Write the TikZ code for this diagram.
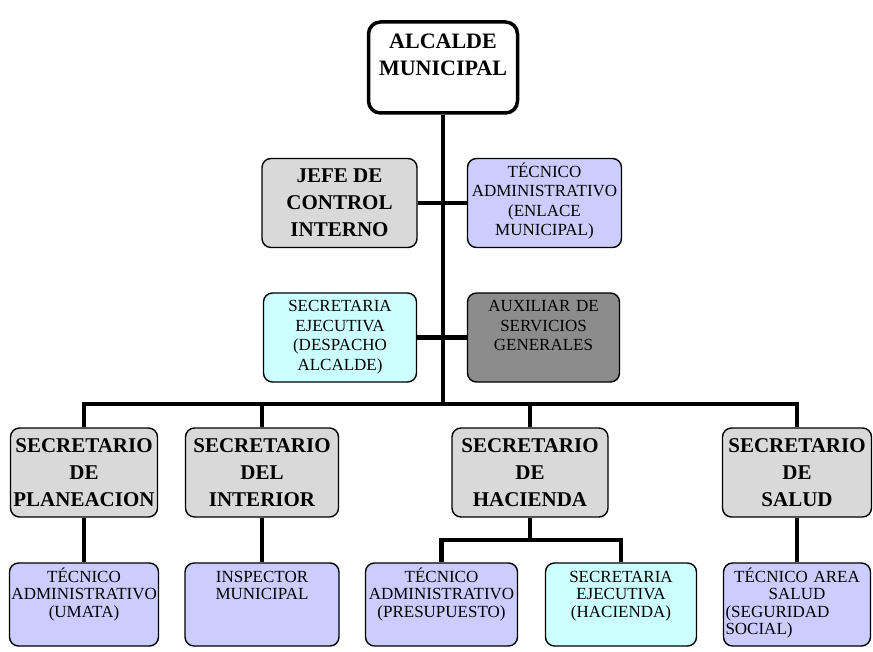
\documentclass[tikz,border=0pt]{standalone}
\usepackage{fontspec}
\setmainfont{Liberation Serif}

\begin{document}
\begin{tikzpicture}[x=1pt,y=-1pt,
  box/.style={draw=black,line width=1.4pt,rounded corners=9pt,inner sep=2pt},
  head/.style={box,fill=chead,font=\bfseries\fontsize{21}{27}\selectfont,align=center,minimum height=89pt},
  staff/.style={box,font=\fontsize{17}{19.5}\selectfont,align=center,text height=17pt,text depth=68pt},
  low/.style={staff,font=\fontsize{17}{17.5}\selectfont,text depth=62pt},
  link/.style={line width=4.8pt,line join=miter}]
%
\useasboundingbox (0,0) rectangle (873,652);
%
\definecolor{chead}{rgb}{0.85,0.85,0.85}
\definecolor{clila}{rgb}{0.8,0.8,1.0}
\definecolor{ccian}{rgb}{0.8,1.0,1.0}
\definecolor{cgris}{rgb}{0.55,0.55,0.55}
%
\node[box,line width=3.5pt,rounded corners=12pt,inner sep=4pt,text width=141pt,
  font=\bfseries\fontsize{22}{27}\selectfont,align=center,text height=23pt,text depth=60pt]
  (alcalde) at (443,67.5) {ALCALDE\\MUNICIPAL};
%
\node[head,minimum width=155pt] (jefe) at (339.5,203) {JEFE DE\\CONTROL\\INTERNO};
\node[staff,fill=clila,text width=150pt] (enlace) at (544.5,203) {TÉCNICO\\ADMINISTRATIVO\\(ENLACE\\MUNICIPAL)};
\node[staff,fill=ccian,text width=149pt] (despacho) at (340,337.5) {SECRETARIA\\EJECUTIVA\\(DESPACHO\\ALCALDE)};
\node[staff,fill=cgris,text width=148pt] (auxiliar) at (543.5,337.5) {AUXILIAR DE\\SERVICIOS\\GENERALES};
%
\node[head,minimum width=147pt] (planeacion) at (84,472.5) {SECRETARIO\\DE\\PLANEACION};
\node[head,minimum width=153pt] (interior) at (262,472.5) {SECRETARIO\\DEL\\INTERIOR};
\node[head,minimum width=156pt] (hacienda) at (530,472.5) {SECRETARIO\\DE\\HACIENDA};
\node[head,minimum width=149pt] (salud) at (797,472.5) {SECRETARIO\\DE\\SALUD};
%
\node[low,fill=clila,text width=145pt] (umata) at (84,604.5) {TÉCNICO\\ADMINISTRATIVO\\(UMATA)};
\node[low,fill=clila,text width=150pt] (inspector) at (262,604.5) {INSPECTOR\\MUNICIPAL};
\node[low,fill=clila,text width=148pt] (presupuesto) at (441.5,604.5) {TÉCNICO\\ADMINISTRATIVO\\(PRESUPUESTO)};
\node[low,fill=ccian,text width=147pt] (sechac) at (621,604.5) {SECRETARIA\\EJECUTIVA\\(HACIENDA)};
\node[low,fill=clila,text width=143pt,align=left] (tecsalud) at (797,604.5)
  {\hfill TÉCNICO AREA\hfill\null\\ \hfill SALUD\hfill\null\\ (SEGURIDAD\\ SOCIAL)};
%
\coordinate (bar) at (443,404);
\coordinate (hsplit) at (530,540);
%
\draw[link] (alcalde.south) -- (bar);
\draw[link] (jefe) -- (enlace);
\draw[link] (despacho) -- (auxiliar);
\foreach \n in {planeacion,interior,hacienda,salud}
  \draw[link] (bar) -| (\n.north);
%
\draw[link] (planeacion) -- (umata);
\draw[link] (interior) -- (inspector);
\draw[link] (salud) -- (tecsalud);
\draw[link] (hacienda.south) -- (hsplit);
\draw[link] (hsplit) -| (presupuesto.north);
\draw[link] (hsplit) -| (sechac.north);
%
\end{tikzpicture}
\end{document}
